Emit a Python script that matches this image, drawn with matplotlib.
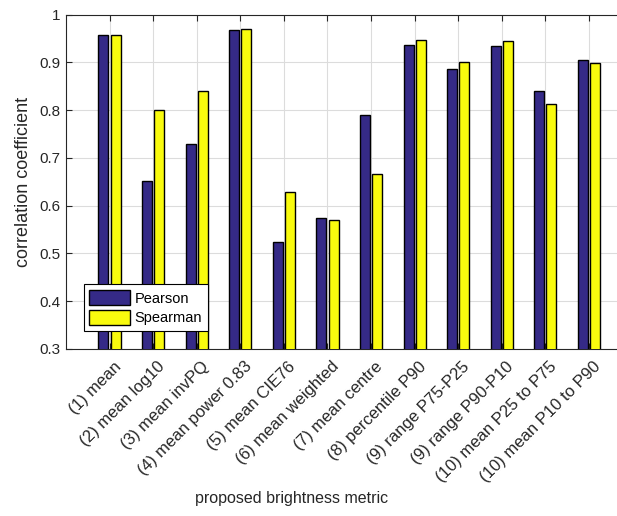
import matplotlib.pyplot as plt
import matplotlib.transforms as mtransforms
import numpy as np

plt.rcParams['font.family'] = ['Liberation Sans', 'DejaVu Sans']

metrics = ['(1) mean', '(2) mean log10', '(3) mean invPQ', '(4) mean power 0.83',
           '(5) mean CIE76', '(6) mean weighted', '(7) mean centre',
           '(8) percentile P90', '(9) range P75-P25', '(9) range P90-P10',
           '(10) mean P25 to P75', '(10) mean P10 to P90']
pearson = [0.957, 0.652, 0.729, 0.967, 0.524, 0.574, 0.791, 0.937, 0.886, 0.934, 0.841, 0.906]
spearman = [0.958, 0.801, 0.841, 0.970, 0.628, 0.570, 0.666, 0.947, 0.900, 0.945, 0.812, 0.898]

fig = plt.figure(figsize=(6.17, 5.16), dpi=100)
ax = fig.add_axes([66 / 617, 1 - 349 / 516, 566.5 / 617, 334.3 / 516])

x = np.arange(1, len(metrics) + 1)
w = 0.23
ax.bar(x - 0.14, pearson, w, color='#352A87', edgecolor='black', linewidth=1.0,
       label='Pearson', zorder=3)
ax.bar(x + 0.14, spearman, w, color='#F9FB0E', edgecolor='black', linewidth=1.0,
       label='Spearman', zorder=3)

ax.set_xlim(0, 13)
ax.set_ylim(0.3, 1)
ax.set_yticks(np.arange(0.3, 1.01, 0.1))
ax.set_yticklabels(['0.3', '0.4', '0.5', '0.6', '0.7', '0.8', '0.9', '1'])
ax.set_xticks(x)
ax.set_xticklabels(metrics, rotation=45, ha='right', rotation_mode='anchor')
ax.tick_params(direction='in', top=True, right=True, labelsize=11, colors='#262626',
               length=4, width=0.8, pad=4)
ax.tick_params(axis='x', labelsize=12, pad=7)
# nudge the slanted labels a little to the right
shift = mtransforms.ScaledTranslation(4 / 100, 0, fig.dpi_scale_trans)
for lab in ax.get_xticklabels():
    lab.set_transform(lab.get_transform() + shift)
ax.grid(True, color='#dcdcdc', linewidth=0.8, zorder=0)
for s in ax.spines.values():
    s.set_color('#262626')
    s.set_linewidth(0.8)

ax.set_ylabel('correlation coefficient', fontsize=13, color='#262626')
ax.yaxis.set_label_coords(-0.06, 0.5)
ax.set_xlabel('proposed brightness metric', fontsize=11.5, color='#262626')
ax.xaxis.set_label_coords(0.399, -0.425)

leg = ax.legend(loc='lower left', bbox_to_anchor=(0.031, 0.053), fontsize=10.5,
                fancybox=False, edgecolor='black', framealpha=1,
                handlelength=2.8, handleheight=1.2, borderpad=0.4,
                labelspacing=0.3, handletextpad=0.3, borderaxespad=0)
leg.get_frame().set_linewidth(0.8)

fig.savefig('out.png', dpi=100)
